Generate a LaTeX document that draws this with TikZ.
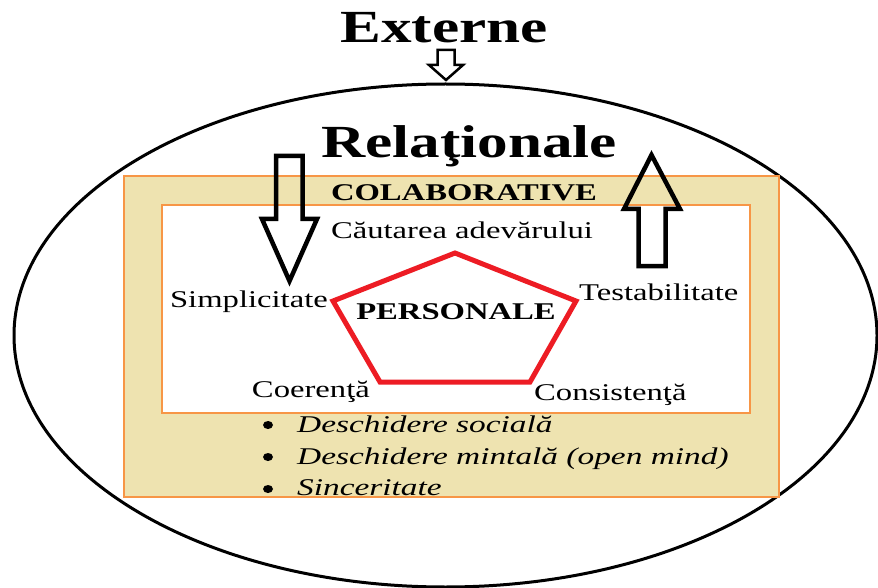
\documentclass[tikz,border=0pt]{standalone}
\usepackage{fontspec}
\setmainfont{Liberation Serif}
\definecolor{bandtan}{RGB}{238,227,176}
\definecolor{rimorange}{RGB}{247,150,70}
\definecolor{pentred}{RGB}{237,28,36}
\newcommand{\wide}[1]{\scalebox{1.36}[1]{#1}}
\newcommand{\wideit}[1]{\scalebox{1.39}[1]{#1}}
\newcommand{\widebig}[1]{\scalebox{1.33}[1]{#1}}
\tikzset{
  titletext/.style={font=\fontsize{46}{50}\selectfont\bfseries, inner sep=0pt, anchor=base},
  headtext/.style={font=\fontsize{24}{27}\selectfont\bfseries, inner sep=0pt, anchor=base},
  valuetext/.style={font=\fontsize{24}{27}\selectfont, inner sep=0pt, anchor=base},
  itemtext/.style={font=\fontsize{24}{27}\selectfont\itshape, inner sep=0pt, anchor=base west},
  blockarrow/.style={draw=black, line width=4.5pt, line join=miter},
  rimline/.style={draw=rimorange, line width=1.3pt},
}
\begin{document}
\begin{tikzpicture}[x=1pt,y=-1pt]
\useasboundingbox (0,0) rectangle (878,588);
\fill[white] (0,0) rectangle (878,588);
% Drawing the outer ellipse
\draw[line width=3pt] (445.5,335.5) ellipse [x radius=431.5, y radius=251.5];
% Drawing the collaborative band and the inner field
\filldraw[rimline, fill=bandtan] (124,176) rectangle (779,497);
\filldraw[rimline, fill=white] (162,205) rectangle (750,413);
% Drawing the titles
\node[titletext] (externe) at (444,43) {\widebig{Externe}};
\node[titletext] (relational) at (469,158) {\widebig{Relaţionale}};
\node[headtext] (colab) at (464,201) {\wide{COLABORATIVE}};
% Drawing the block arrows
\draw[line width=2.5pt, line join=miter] (437.5,50) -- (454.5,50) -- (454.5,65) -- (463,65) -- (446,80) -- (429,65) -- (437.5,65) -- cycle;
\draw[blockarrow] (276,156) -- (302.5,156) -- (302.5,219) -- (317,219) -- (289.5,281) -- (262,219) -- (276,219) -- cycle;
\draw[blockarrow] (638.5,266) -- (665.5,266) -- (665.5,209) -- (680,209) -- (651.5,155) -- (624,209) -- (638.5,209) -- cycle;
% Drawing the pentagon
\coordinate (ptop) at (455,253);
\coordinate (pright) at (576,301);
\coordinate (pbr) at (530,382);
\coordinate (pbl) at (380,382);
\coordinate (pleft) at (333,301);
\draw[draw=pentred, line width=5pt, line join=miter] (ptop) -- (pright) -- (pbr) -- (pbl) -- (pleft) -- cycle;
\node[headtext] (personal) at (456,319) {\wide{PERSONALE}};
% Drawing the values round the pentagon
\node[valuetext] (cautare) at (462,239) {\wide{Căutarea adevărului}};
\node[valuetext, anchor=base east] (simplu) at (328,307) {\wide{Simplicitate}};
\node[valuetext, anchor=base west] (testare) at (579,300) {\wide{Testabilitate}};
\node[valuetext, anchor=base east] (coerent) at (370,397) {\wide{Coerenţă}};
\node[valuetext, anchor=base west] (consist) at (534,400) {\wide{Consistenţă}};
% Drawing the bullet list
\foreach \yy in {425,457,489}
  \fill (268,\yy) ellipse [x radius=5, y radius=4];
\node[itemtext] (social) at (297,432) {\wideit{Deschidere socială}};
\node[itemtext] (mental) at (297,464) {\wideit{Deschidere mintală (open mind)}};
\node[itemtext] (sincer) at (297,495) {\wideit{Sinceritate}};
\end{tikzpicture}
\end{document}
